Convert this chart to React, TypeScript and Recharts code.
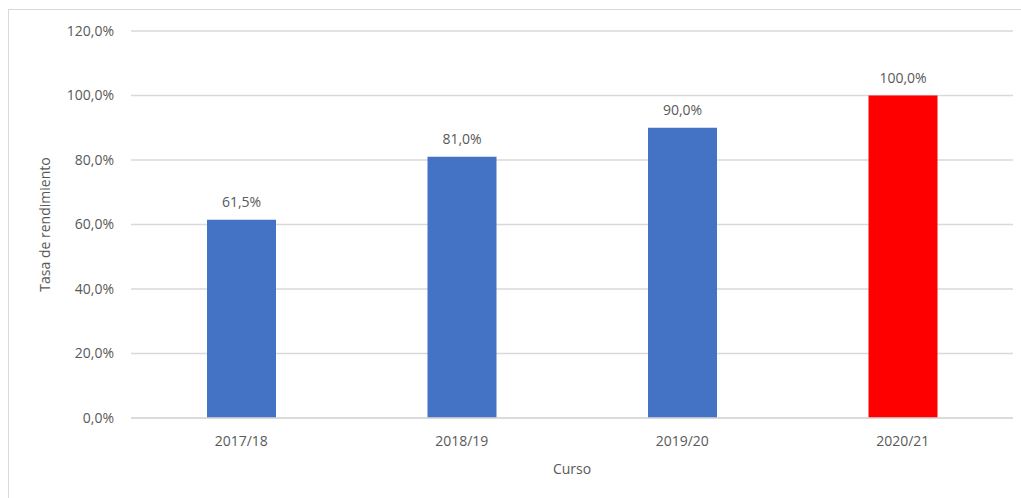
import { BarChart, Bar, XAxis, YAxis, CartesianGrid, Cell, LabelList } from 'recharts';

const cursos = ['2017/18', '2018/19', '2019/20', '2020/21'];
const tasas = [61.5, 81.0, 90.0, 100.0];
const colores = ['#4472C4', '#4472C4', '#4472C4', '#FF0000'];
const yTicks = [0, 20, 40, 60, 80, 100, 120];

const data = cursos.map((curso, i) => ({ curso, tasa: tasas[i] }));

const pct = (v: number | string) => `${Number(v).toFixed(1).replace('.', ',')}%`;

const FONT = '"Open Sans", sans-serif';
const GREY = '#595959';

export default function App() {
  return (
    <div style={{ position: 'fixed', left: 0, top: 0, width: 1021, height: 498, overflow: 'hidden', background: '#fff' }}>
      <div style={{ position: 'absolute', left: 8, top: 9, width: 1030, height: 520, border: '1px solid #d9d9d9', fontFamily: FONT }}>
        <BarChart
          width={1030}
          height={510}
          data={data}
          margin={{ top: 21, right: 26, bottom: 42, left: 0 }}
        >
          <CartesianGrid vertical={false} stroke="#d9d9d9" strokeWidth={1.5} />
          <XAxis
            dataKey="curso"
            height={60}
            tickLine={false}
            tickSize={0}
            tickMargin={18}
            axisLine={{ stroke: '#d9d9d9', strokeWidth: 1.5 }}
            tick={{ fill: GREY, fontSize: 14, fontFamily: FONT }}
            label={{ value: 'Curso', position: 'insideBottom', offset: 4, fill: GREY, fontSize: 14, fontFamily: FONT }}
          />
          <YAxis
            width={122}
            domain={[0, 120]}
            ticks={yTicks}
            tickFormatter={pct}
            axisLine={false}
            tickLine={false}
            tickSize={0}
            tickMargin={17}
            tick={{ fill: GREY, fontSize: 14, fontFamily: FONT }}
            label={{
              value: 'Tasa de rendimiento',
              angle: -90,
              position: 'insideLeft',
              offset: 36,
              textAnchor: 'middle',
              fill: GREY,
              fontSize: 14,
              fontFamily: FONT,
            }}
          />
          <Bar dataKey="tasa" barSize={69} isAnimationActive={false}>
            {data.map((d, i) => (
              <Cell key={d.curso} fill={colores[i]} />
            ))}
            <LabelList dataKey="tasa" position="top" offset={13} formatter={pct} fill={GREY} fontSize={14} fontFamily={FONT} />
          </Bar>
        </BarChart>
      </div>
    </div>
  );
}
